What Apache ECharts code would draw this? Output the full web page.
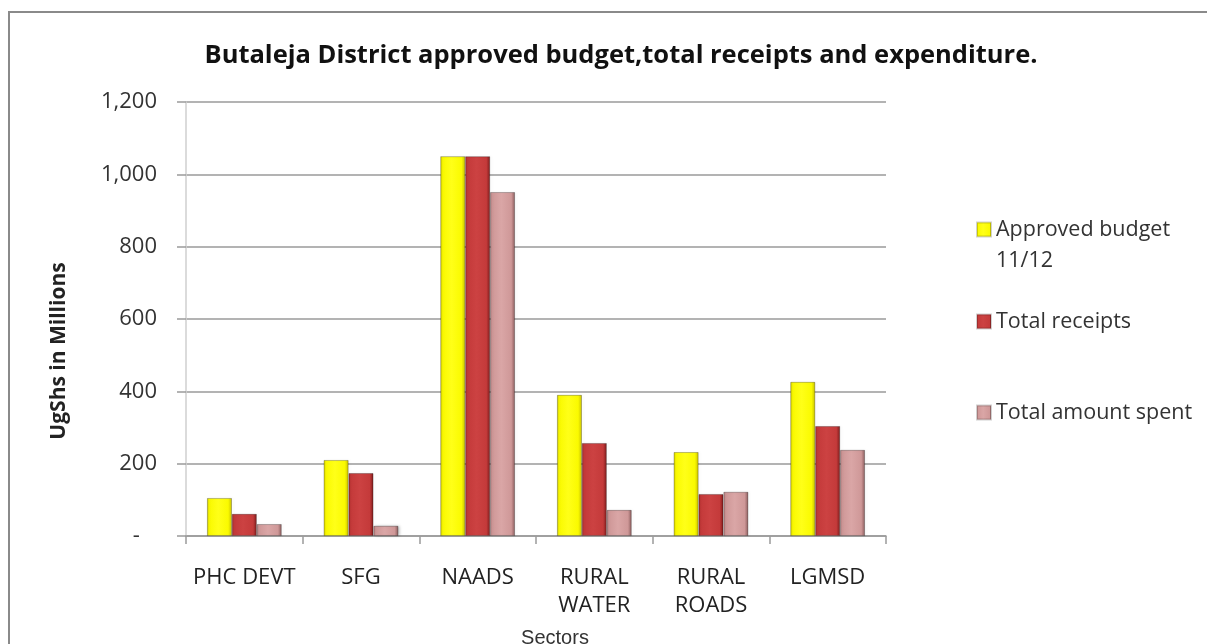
<!DOCTYPE html>
<html>
<head>
<meta charset="utf-8">
<script src="https://cdn.jsdelivr.net/npm/echarts@6/dist/echarts.min.js"></script>
<style>
  html, body { margin: 0; padding: 0; background: #fff; overflow: hidden; }
  #chart { width: 1207px; height: 644px; }
</style>
</head>
<body>
<div id="chart"></div>
<script>
// Sectors on the category axis
const sectors = ['PHC DEVT', 'SFG', 'NAADS', 'RURAL\nWATER', 'RURAL\nROADS', 'LGMSD'];

// Values in millions of UgShs, one array per series
const approvedBudget = [105, 210, 1050, 390, 232, 426];
const totalReceipts = [61, 174, 1050, 257, 116, 304];
const totalSpent = [33, 28, 951, 72, 122, 238];

// Value axis ticks
const yTicks = { min: 0, max: 1200, interval: 200 };

const seriesNames = ['Approved budget 11/12', 'Total receipts', 'Total amount spent'];

// Bevel-like horizontal gradients for each series
function bevel(edgeL, mid, light, edgeR) {
  return new echarts.graphic.LinearGradient(0, 0, 1, 0, [
    { offset: 0, color: edgeL },
    { offset: 0.1, color: mid },
    { offset: 0.45, color: light },
    { offset: 0.85, color: mid },
    { offset: 1, color: edgeR }
  ]);
}
const fills = [
  bevel('#d6ce00', '#fafa00', '#ffff18', '#c8c000'),
  bevel('#a82c2c', '#c43a3a', '#cc4242', '#7c1c1c'),
  bevel('#b07c7c', '#cf9898', '#daa6a6', '#8a5c5c')
];
const swatches = ['#f0f000', '#c03a3a', '#cc9696'];
const data = [approvedBudget, totalReceipts, totalSpent];

const chart = echarts.init(document.getElementById('chart'), null, { renderer: 'canvas' });

const baseFont = 'Open Sans';
const legendFont = { fontFamily: baseFont, fontSize: 21.5, color: '#333', lineHeight: 31 };
// Legend blocks: the first carries a leading blank line so its swatch sits beside the first text line
const legendTops = [178, 301, 392];

chart.setOption({
  animation: false,
  backgroundColor: '#fff',
  title: {
    text: 'Butaleja District approved budget,total receipts and expenditure.',
    left: 616,
    textAlign: 'center',
    top: 38,
    textStyle: { fontFamily: baseFont, fontWeight: 'bold', fontSize: 25.5, color: '#111' }
  },
  graphic: [{
    type: 'polyline',
    shape: { points: [[9, 700], [9, 12], [1300, 12]] },
    style: { fill: null, stroke: '#8a8a8a', lineWidth: 2 },
    silent: true
  }],
  legend: seriesNames.map((name, i) => ({
    data: [name],
    orient: 'vertical',
    left: 971,
    top: legendTops[i],
    icon: 'rect',
    itemWidth: 14,
    itemHeight: 14,
    itemGap: 4,
    selectedMode: false,
    formatter: (n) => n === seriesNames[0] ? '\nApproved budget\n11/12' : n,
    textStyle: legendFont
  })),
  grid: { left: 186, width: 700, top: 102, height: 434, containLabel: false, outerBoundsMode: 'none' },
  xAxis: {
    type: 'category',
    data: sectors,
    name: 'Sectors',
    nameLocation: 'middle',
    nameGap: 92,
    nameTextStyle: { fontFamily: 'Liberation Sans', fontSize: 20, color: '#333', padding: [0, 0, 0, 38] },
    axisLine: { lineStyle: { color: '#9a9a9a', width: 1.5 } },
    axisTick: { show: true, length: 8, lineStyle: { color: '#9a9a9a', width: 1.5 } },
    axisLabel: {
      fontFamily: baseFont, fontSize: 22, color: '#222',
      margin: 28, lineHeight: 28, interval: 0
    }
  },
  yAxis: {
    type: 'value',
    min: yTicks.min,
    max: yTicks.max,
    interval: yTicks.interval,
    name: 'UgShs in Millions',
    nameLocation: 'middle',
    nameGap: 116,
    nameTextStyle: { fontFamily: baseFont, fontWeight: 'bold', fontSize: 21, color: '#222', padding: [0, 64, 0, 0] },
    axisLine: { show: true, lineStyle: { color: '#cfcfcf', width: 1.5 } },
    axisTick: { show: true, length: 9, lineStyle: { color: '#9a9a9a', width: 1.5 } },
    splitLine: { lineStyle: { color: '#9a9a9a', width: 1.5 } },
    axisLabel: {
      fontFamily: baseFont, fontSize: 22, color: '#333', margin: 29,
      formatter: (v) => v === 0 ? '-   ' : v.toLocaleString('en-US')
    }
  },
  series: seriesNames.map((name, i) => ({
    name,
    type: 'bar',
    data: data[i],
    barGap: '0%',
    barCategoryGap: '36%',
    itemStyle: {
      color: fills[i],
      borderColor: 'rgba(0,0,0,0.18)',
      borderWidth: 0.8,
      shadowColor: 'rgba(0,0,0,0.25)',
      shadowBlur: 3,
      shadowOffsetX: 1.5
    }
  }))
});

// Solid legend swatches
chart.setOption({
  series: seriesNames.map((name, i) => ({ name, color: swatches[i] }))
});
</script>
</body>
</html>
